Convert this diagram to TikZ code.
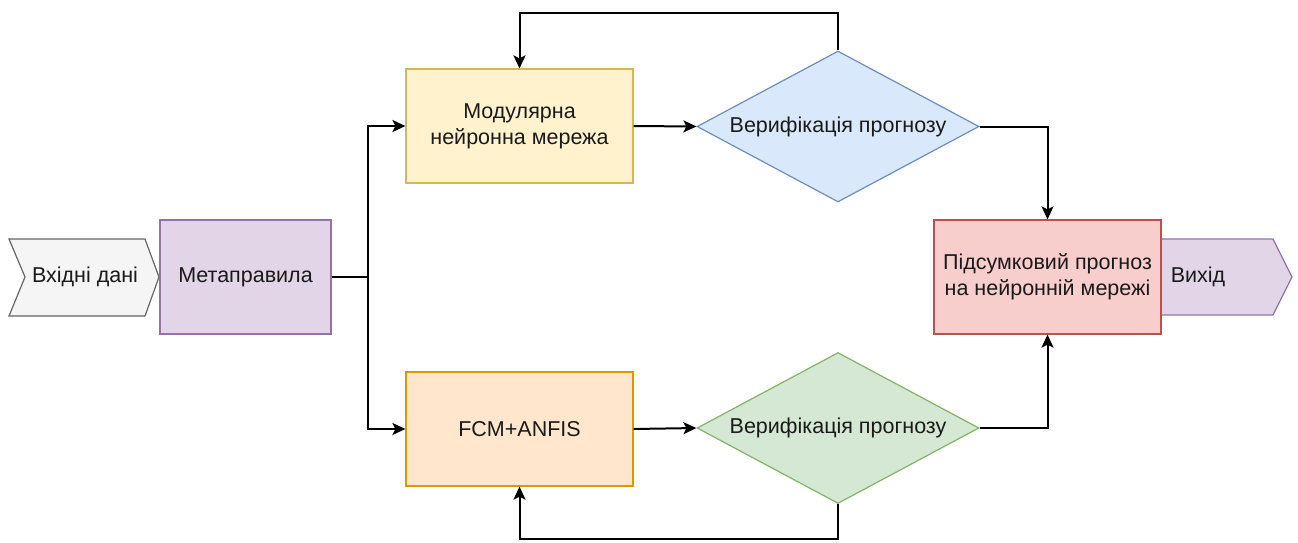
\documentclass[tikz,border=0pt]{standalone}
\usepackage{fontspec}
\setmainfont{Liberation Sans}
\usetikzlibrary{shapes.geometric,arrows.meta}
\definecolor{grayF}{HTML}{F5F5F5}\definecolor{grayD}{HTML}{666666}
\definecolor{purF}{HTML}{E1D5E7}\definecolor{purD}{HTML}{9673A6}
\definecolor{yelF}{HTML}{FFF2CC}\definecolor{yelD}{HTML}{D6B656}
\definecolor{bluF}{HTML}{DAE8FC}\definecolor{bluD}{HTML}{6C8EBF}
\definecolor{oraF}{HTML}{FFE6CC}\definecolor{oraD}{HTML}{D79B00}
\definecolor{greF}{HTML}{D5E8D4}\definecolor{greD}{HTML}{82B366}
\definecolor{redF}{HTML}{F8CECC}\definecolor{redD}{HTML}{B85450}
\definecolor{txt}{HTML}{1A1A1A}
\tikzset{
  txtfont/.style={font=\fontsize{21.5}{26}\selectfont, text=txt, align=center},
  box/.style={draw, line width=1.2pt, rectangle, minimum width=227pt, minimum height=114pt, inner sep=0pt, txtfont},
  dia/.style={draw, line width=1.2pt, diamond, aspect=1.87, inner sep=0pt, minimum width=282pt, minimum height=151pt, txtfont},
  arr/.style={line width=2pt, -{Stealth[length=13pt,width=12pt,inset=3pt]}},
  ln/.style={line width=2pt},
}
\begin{document}
\begin{tikzpicture}[x=1pt,y=-1pt]
\useasboundingbox (0,0) rectangle (1298,542);
% input chevron
\draw[fill=grayF, draw=grayD, line width=1.2pt] (9,239) -- (145,239) -- (159,277) -- (145,316) -- (9,316) -- (25,277) -- cycle;
\node[txtfont] (inp) at (85,277) {Вхідні дані};
% output chevron
\draw[fill=purF, draw=purD, line width=1.2pt] (1161,239) -- (1273,239) -- (1292,277) -- (1273,315) -- (1161,315) -- cycle;
\node[txtfont] (out) at (1198,277) {Вихід};
% boxes
\node[box, fill=purF, draw=purD, minimum width=171pt] (meta) at (245.5,277) {Метаправила};
\node[box, fill=yelF, draw=yelD] (mod) at (519.5,126) {Модулярна\\нейронна мережа};
\node[box, fill=oraF, draw=oraD] (fcm) at (519.5,429) {FCM+ANFIS};
\node[box, fill=redF, draw=redD] (fin) at (1047.5,277) {Підсумковий прогноз\\на нейронній мережі};
\node[dia, fill=bluF, draw=bluD] (vb) at (838,126.5) {Верифікація прогнозу};
\node[dia, fill=greF, draw=greD] (vg) at (838,428) {Верифікація прогнозу};
% connectors
\coordinate (split) at (368,277);
\draw[ln] (meta.east) -- (split);
\draw[arr] (split) |- (mod.west);
\draw[arr] (split) |- (fcm.west);
\draw[arr] (mod.east) -- (vb.west);
\draw[arr] (fcm.east) -- (vg.west);
\coordinate (topc) at (838,13);
\coordinate (botc) at (838,539);
\draw[arr] (vb.north) -- (topc) -| (mod.north);
\draw[arr] (vg.south) -- (botc) -| (fcm.south);
\draw[arr] (vb.east) -| (fin.north);
\draw[arr] (vg.east) -| (fin.south);
\end{tikzpicture}
\end{document}
